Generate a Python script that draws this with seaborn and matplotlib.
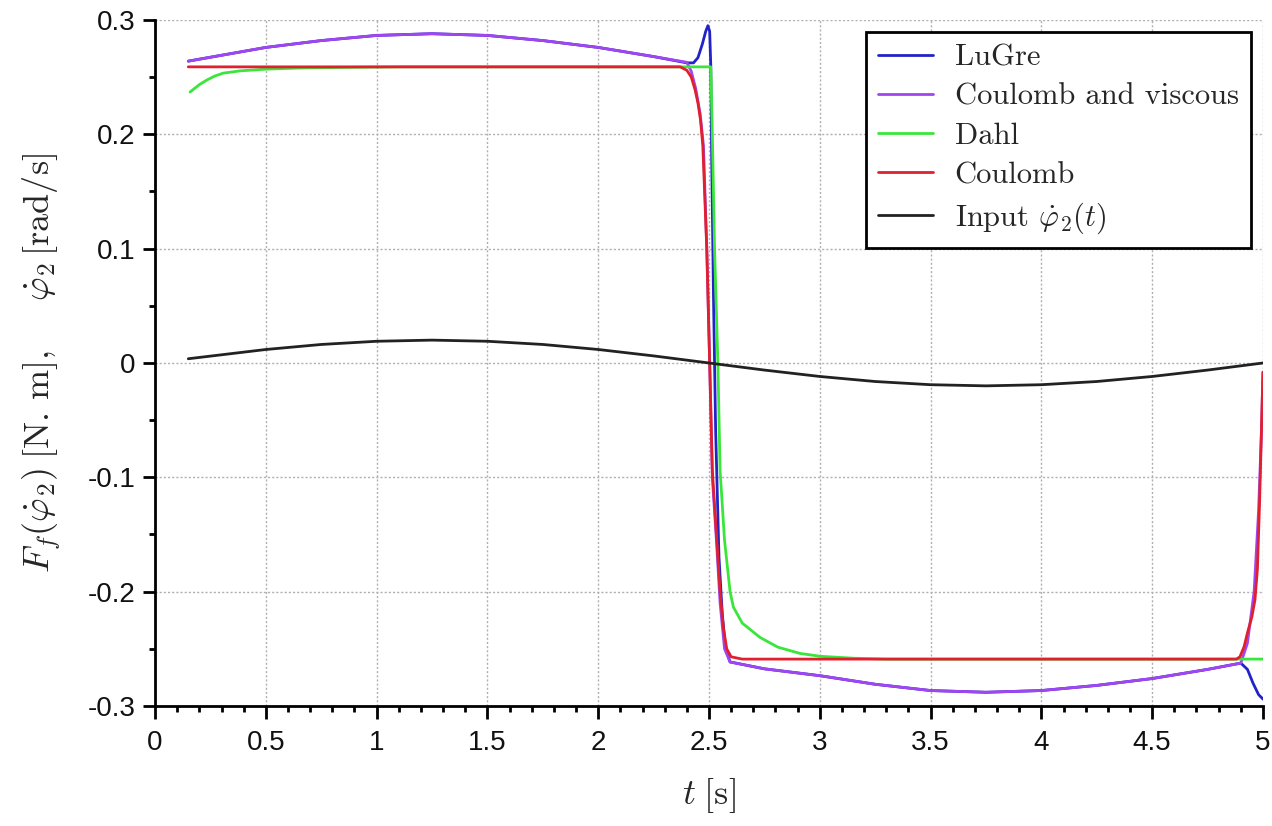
import matplotlib
matplotlib.use("Agg")
import matplotlib.pyplot as plt
import seaborn as sns
import pandas as pd
from matplotlib.ticker import MultipleLocator, FuncFormatter

# values (t in s, value)
lugre_t = [0.15, 0.5, 0.75, 1.0, 1.25, 1.5, 1.75, 2.0, 2.25, 2.40, 2.43, 2.45, 2.47, 2.485, 2.495,
           2.503, 2.508, 2.512, 2.52, 2.53, 2.545, 2.56, 2.575, 2.595, 2.75, 3.0, 3.25, 3.5, 3.75,
           4.0, 4.25, 4.5, 4.75, 4.9, 4.93, 4.955, 4.98, 5.0]
lugre_v = [0.264, 0.276, 0.282, 0.2865, 0.288, 0.2865, 0.282, 0.276, 0.268, 0.2625, 0.2625, 0.267,
           0.279, 0.290, 0.295, 0.290, 0.26, 0.18, 0.06, -0.06, -0.17, -0.22, -0.25, -0.2615, -0.2675,
           -0.2735, -0.281, -0.2865, -0.288, -0.2865, -0.282, -0.276, -0.268, -0.2625, -0.268, -0.280,
           -0.290, -0.294]

visc_t = [0.15, 0.5, 0.75, 1.0, 1.25, 1.5, 1.75, 2.0, 2.25, 2.40, 2.42, 2.44, 2.46, 2.475, 2.49,
          2.503, 2.515, 2.535, 2.55, 2.57, 2.595, 2.75, 3.0, 3.25, 3.5, 3.75, 4.0, 4.25, 4.5, 4.75,
          4.9, 4.93, 4.96, 4.98, 4.993, 5.0]
visc_v = [0.264, 0.276, 0.282, 0.2865, 0.288, 0.2865, 0.282, 0.276, 0.268, 0.263, 0.255, 0.240,
          0.218, 0.19, 0.10, 0.0, -0.10, -0.16, -0.21, -0.25, -0.2615, -0.2675, -0.2735, -0.281,
          -0.2865, -0.288, -0.2865, -0.282, -0.276, -0.268, -0.2625, -0.245, -0.20, -0.13, -0.06, -0.008]

dahl_t = [0.158, 0.2, 0.235, 0.27, 0.307, 0.384, 0.5, 0.65, 0.85, 1.1, 2.0, 2.508, 2.515, 2.525,
          2.54, 2.55, 2.57, 2.595, 2.61, 2.65, 2.73, 2.81, 2.91, 3.0, 3.15, 3.3, 4.0, 5.0]
dahl_v = [0.237, 0.2435, 0.2476, 0.251, 0.2535, 0.2555, 0.257, 0.258, 0.2585, 0.259, 0.259, 0.259,
          0.2, 0.1, 0.0, -0.094, -0.155, -0.2, -0.2135, -0.2275, -0.24, -0.2485, -0.254, -0.2565,
          -0.2582, -0.259, -0.259, -0.259]

coul_t = [0.15, 1.0, 2.0, 2.37, 2.40, 2.42, 2.437, 2.45, 2.462, 2.472, 2.48, 2.49, 2.503, 2.515,
          2.535, 2.55, 2.565, 2.58, 2.60, 2.65, 4.0, 4.88, 4.896, 4.915, 4.93, 4.95, 4.964, 4.975,
          4.985, 4.993, 5.0]
coul_v = [0.259, 0.259, 0.259, 0.259, 0.256, 0.250, 0.239, 0.2275, 0.212, 0.19, 0.15, 0.099, 0.0,
          -0.094, -0.155, -0.2, -0.232, -0.25, -0.257, -0.259, -0.259, -0.259, -0.257, -0.248,
          -0.236, -0.222, -0.207, -0.18, -0.12, -0.06, -0.008]

input_t = [0.15, 0.5, 0.75, 1.0, 1.25, 1.5, 1.75, 2.0, 2.25, 2.5, 2.75, 3.0, 3.25, 3.5, 3.75,
           4.0, 4.25, 4.5, 4.75, 5.0]
input_v = [0.0037, 0.0118, 0.0162, 0.019, 0.020, 0.019, 0.0162, 0.0118, 0.0062, 0.0, -0.0062,
           -0.0118, -0.0162, -0.019, -0.020, -0.019, -0.0162, -0.0118, -0.0062, 0.0]

series = [
    ("LuGre", lugre_t, lugre_v, "#2323c8"),
    ("Coulomb and viscous", visc_t, visc_v, "#a046f0"),
    ("Dahl", dahl_t, dahl_v, "#3ae63a"),
    ("Coulomb", coul_t, coul_v, "#e0202e"),
    (r"Input $\dot{\varphi}_2(t)$", input_t, input_v, "#222222"),
]

sns.set_theme(style="white")
plt.rcParams["mathtext.fontset"] = "cm"
plt.rcParams["font.family"] = ["Liberation Sans", "DejaVu Sans"]

fig, ax = plt.subplots(figsize=(12.72, 8.26), dpi=100)
fig.subplots_adjust(left=0.1219, right=0.9929, top=0.9758, bottom=0.1453)

for name, t, v, c in series:
    df = pd.DataFrame({"t": t, "v": v})
    sns.lineplot(data=df, x="t", y="v", ax=ax, color=c, label=name, sort=False,
                 estimator=None, linewidth=2.0)

ax.set_xlim(0, 5)
ax.set_ylim(-0.3, 0.3)
ax.xaxis.set_major_locator(MultipleLocator(0.5))
ax.xaxis.set_minor_locator(MultipleLocator(0.1))
ax.yaxis.set_major_locator(MultipleLocator(0.1))
ax.yaxis.set_minor_locator(MultipleLocator(0.05))
fmt = FuncFormatter(lambda x, pos: "%g" % round(x, 3) if abs(x) > 1e-9 else "0")
ax.xaxis.set_major_formatter(fmt)
ax.yaxis.set_major_formatter(fmt)

ax.grid(True, which="major", linestyle=(0, (1.5, 1.5)), color="#b0b0b0", linewidth=1.0)
for s in ["top", "right"]:
    ax.spines[s].set_visible(False)
for s in ["left", "bottom"]:
    ax.spines[s].set_color("black")
    ax.spines[s].set_linewidth(2.0)

ax.tick_params(axis="both", which="major", direction="out", length=9, width=2, color="black",
               labelsize=20, labelcolor="#111111", left=True, bottom=True)
ax.tick_params(axis="both", which="minor", direction="out", length=4.5, width=2, color="black",
               left=True, bottom=True)
ax.tick_params(axis="x", which="major", pad=8)
ax.tick_params(axis="y", which="major", pad=5)

ax.set_xlabel(r"$t\;[\mathrm{s}]$", fontsize=26, labelpad=15)
ax.set_ylabel(r"$F_f(\dot{\varphi}_2)\;[\mathrm{N.\,m}],\quad\ \dot{\varphi}_2\,[\mathrm{rad/s}]$",
              fontsize=26, labelpad=18)

leg = ax.legend(loc="upper right", bbox_to_anchor=(1.0, 1.0), borderaxespad=0.4, frameon=True,
                fancybox=False, framealpha=1, edgecolor="black",
                prop={"family": "cmr10", "size": 22},
                handlelength=1.8, handletextpad=0.7, labelspacing=0.38, borderpad=0.4)
leg.get_frame().set_linewidth(2.0)
for ln in leg.get_lines():
    ln.set_linewidth(2.0)

fig.savefig("out.png", dpi=100)
